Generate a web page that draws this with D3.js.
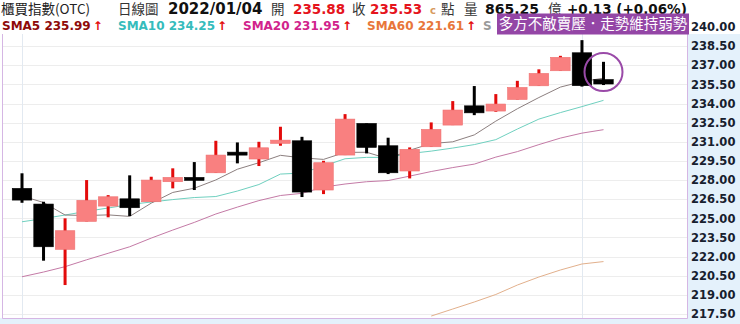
<!DOCTYPE html>
<html>
<head>
<meta charset="utf-8">
<script src="https://cdn.jsdelivr.net/npm/d3@7"></script>
<style>
  body { margin: 0; background: #fff; }
  svg { display: block; }
</style>
</head>
<body>
<div id="chart"></div>
<script>
// daily candles
var openP  = [227.35, 226.12, 222.57, 224.76, 225.96, 226.53, 226.30, 227.87, 228.21, 228.57,
              230.19, 229.65, 230.88, 231.08, 227.22, 229.96, 232.44, 230.69, 228.71, 230.61,
              232.31, 233.82, 233.41, 234.32, 235.39, 236.57, 237.98, 235.88];
var highP  = [228.53, 226.30, 225.00, 228.00, 226.82, 228.37, 228.26, 228.92, 229.41, 231.08,
              230.95, 231.00, 232.18, 231.39, 229.51, 233.17, 232.44, 231.32, 230.56, 232.52,
              234.19, 235.37, 234.74, 235.78, 236.68, 237.74, 238.97, 237.27];
var lowP   = [226.22, 221.68, 219.77, 224.76, 225.08, 225.18, 226.30, 227.35, 227.22, 228.57,
              229.31, 229.10, 230.69, 226.67, 226.90, 229.96, 230.09, 228.47, 228.13, 230.61,
              232.31, 233.09, 233.35, 234.32, 235.39, 236.57, 235.33, 235.45];
var closeP = [226.43, 222.77, 224.03, 226.41, 226.69, 225.83, 228.00, 228.21, 228.05, 229.96,
              230.04, 230.53, 231.13, 227.06, 229.36, 232.78, 230.56, 228.57, 230.41, 231.97,
              233.49, 233.27, 233.96, 235.26, 236.36, 237.62, 235.40, 235.53];

// moving averages as drawn
var sma5  = [226.75, 226.24, 225.26, 225.22, 225.27, 225.15, 226.19, 227.03, 227.36, 228.01,
             228.85, 229.36, 229.94, 229.74, 229.62, 230.17, 230.18, 229.67, 230.34, 230.86,
             231.00, 231.54, 232.62, 233.59, 234.47, 235.29, 235.72, 235.99];
var sma10 = [224.73, 224.98, 225.26, 225.55, 225.81, 226.08, 226.28, 226.47, 226.63, 226.71,
             227.14, 227.65, 228.47, 228.55, 229.10, 229.67, 229.78, 229.78, 230.08, 230.27,
             230.51, 230.78, 231.17, 232.00, 232.78, 233.29, 233.76, 234.25];
var sma20 = [220.42, 220.79, 221.21, 221.75, 222.26, 222.77, 223.45, 224.08, 224.68, 225.34,
             225.88, 226.39, 226.79, 226.96, 227.45, 227.69, 227.87, 227.96, 228.31, 228.67,
             228.98, 229.25, 229.80, 230.23, 230.78, 231.29, 231.68, 231.95];
var sma60 = [null, null, null, null, null, null, null, null, null, null,
             null, null, null, null, null, null, null, null, null, 217.34,
             217.89, 218.44, 219.03, 219.77, 220.40, 220.95, 221.42, 221.61];

var yTicks = [217.5, 219, 220.5, 222, 223.5, 225, 226.5, 228, 229.5, 231, 232.5, 234, 235.5, 237, 238.5, 240];
var gridDays = [0, 26];

var W = 740, H = 324;
var plot = {left: 2, right: 687, top: 34, bottom: 318};

var svg = d3.select("#chart").append("svg")
    .attr("width", W)
    .attr("height", H);

// axis + bottom strip background
svg.append("rect").attr("x", plot.right).attr("y", plot.top)
   .attr("width", W - plot.right).attr("height", H - plot.top).attr("fill", "#e4f1fb");
svg.append("rect").attr("x", 0).attr("y", plot.bottom)
   .attr("width", W).attr("height", H - plot.bottom).attr("fill", "#e4f1fb");
svg.append("rect").attr("x", plot.left).attr("y", plot.top)
   .attr("width", plot.right - plot.left).attr("height", plot.bottom - plot.top).attr("fill", "#fff");

var idx = d3.range(openP.length);
var x = d3.scalePoint().domain(idx).range([22, 603.5]);
var y = d3.scaleLinear().domain([217.5, 240]).range([314, 27]);

svg.append("clipPath").attr("id", "clip")
  .append("rect").attr("x", plot.left).attr("y", plot.top)
  .attr("width", plot.right - plot.left).attr("height", plot.bottom - plot.top);

var g = svg.append("g").attr("clip-path", "url(#clip)");

// grid
g.selectAll(".hgrid").data(yTicks).enter().append("line")
  .attr("x1", plot.left).attr("x2", plot.right)
  .attr("y1", function(d) { return Math.round(y(d)) + 0.5; })
  .attr("y2", function(d) { return Math.round(y(d)) + 0.5; })
  .attr("stroke", "#ededed");
g.selectAll(".vgrid").data(gridDays).enter().append("line")
  .attr("x1", function(d) { return Math.round(x(d)) + 0.5; })
  .attr("x2", function(d) { return Math.round(x(d)) + 0.5; })
  .attr("y1", plot.top).attr("y2", plot.bottom)
  .attr("stroke", "#e2e9f1");

// moving average lines
function maLine(vals, color) {
  var line = d3.line()
    .defined(function(d) { return d != null; })
    .x(function(d, i) { return x(i); })
    .y(function(d) { return y(d); });
  g.append("path").datum(vals)
    .attr("d", line)
    .attr("fill", "none")
    .attr("stroke", color)
    .attr("stroke-width", 1);
}
maLine(sma60, "#e2b08c");
maLine(sma20, "#c47aa6");
maLine(sma10, "#6fd0bf");
maLine(sma5, "#8c7f7f");

// candles
var bw = 19.5;
var up = function(i) { return closeP[i] >= openP[i]; };

g.selectAll(".wick").data(idx).enter().append("rect")
  .attr("x", function(i) { return x(i) - 1.5; })
  .attr("width", 3)
  .attr("y", function(i) { return y(highP[i]); })
  .attr("height", function(i) { return Math.max(1, y(lowP[i]) - y(highP[i])); })
  .attr("fill", function(i) { return up(i) ? "#e30b0b" : "#000"; });

g.selectAll(".body").data(idx).enter().append("rect")
  .attr("x", function(i) { return x(i) - bw / 2; })
  .attr("width", bw)
  .attr("y", function(i) { return y(Math.max(openP[i], closeP[i])); })
  .attr("height", function(i) { return Math.max(3, Math.abs(y(openP[i]) - y(closeP[i]))); })
  .attr("fill", function(i) { return up(i) ? "#f98080" : "#000"; })
  .attr("stroke", function(i) { return up(i) ? "#ef7070" : "#000"; })
  .attr("stroke-width", 0.6);

// plot border
svg.append("path")
  .attr("d", "M" + (plot.left + 0.5) + "," + plot.top + "V" + (plot.bottom + 0.5) +
             "H" + (plot.right + 0.5) + "V" + plot.top)
  .attr("fill", "none")
  .attr("stroke", "#d5b6e4");

// right axis
var yAxis = svg.append("g")
  .attr("transform", "translate(" + plot.right + ",0)")
  .call(d3.axisRight(y).tickValues(yTicks).tickSize(0).tickPadding(4).tickFormat(d3.format(".2f")));
yAxis.select(".domain").remove();
yAxis.selectAll("text")
  .attr("font-family", "DejaVu Sans, Verdana, sans-serif")
  .attr("font-size", 11.5)
  .attr("font-weight", "bold")
  .attr("fill", "#17202e");

// header row 1
var cjk = "'Noto Sans CJK TC', 'Noto Sans CJK SC', sans-serif";
var num = "DejaVu Sans, Verdana, sans-serif";
var head = [
  {t: "櫃買指數(OTC)", x: 1, f: cjk, s: 13.5, w: "normal", c: "#222"},
  {t: "日線圖", x: 118, f: cjk, s: 13.5, w: "normal", c: "#333"},
  {t: "2022/01/04", x: 168, f: num, s: 15, w: "bold", c: "#111"},
  {t: "開", x: 271, f: cjk, s: 13.5, w: "normal", c: "#333"},
  {t: "235.88", x: 293, f: num, s: 13.5, w: "bold", c: "#e5141c"},
  {t: "收", x: 352, f: cjk, s: 13.5, w: "normal", c: "#333"},
  {t: "235.53", x: 370, f: num, s: 13.5, w: "bold", c: "#e5141c"},
  {t: "c", x: 430, f: num, s: 10, w: "bold", c: "#d89a5e"},
  {t: "點", x: 441, f: cjk, s: 13.5, w: "normal", c: "#333"},
  {t: "量", x: 464, f: cjk, s: 13.5, w: "normal", c: "#333"},
  {t: "865.25", x: 485, f: num, s: 14, w: "bold", c: "#111"},
  {t: "億", x: 548, f: cjk, s: 13.5, w: "normal", c: "#333"},
  {t: "+0.13 (+0.06%)", x: 567, f: num, s: 13.5, w: "bold", c: "#111"}
];
svg.selectAll(".head").data(head).enter().append("text")
  .attr("x", function(d) { return d.x; })
  .attr("y", 13.5)
  .attr("font-family", function(d) { return d.f; })
  .attr("font-size", function(d) { return d.s; })
  .attr("font-weight", function(d) { return d.w; })
  .attr("fill", function(d) { return d.c; })
  .text(function(d) { return d.t; });

// header row 2 : moving average legend (the last one sits under the comment box)
var maNames = ["SMA5", "SMA10", "SMA20", "SMA60"];
var maVals = ["235.99", "234.25", "231.95", "221.61"];
var maCols = ["#8e0a0a", "#35bcbc", "#d1238c", "#e8763a"];
var maX = [2, 118, 243, 367];
var leg = svg.selectAll(".leg").data(maNames).enter().append("text")
  .attr("x", function(d, i) { return maX[i]; })
  .attr("y", 29.5)
  .attr("font-family", num)
  .attr("font-size", 12)
  .attr("font-weight", "bold")
  .attr("fill", function(d, i) { return maCols[i]; });
leg.append("tspan").text(function(d, i) { return d + " " + maVals[i]; });
leg.append("tspan").attr("dx", 2).attr("fill", "#e30b0b").text("↑");
svg.append("text")
  .attr("x", 483).attr("y", 29.5)
  .attr("font-family", num).attr("font-size", 12).attr("font-weight", "bold")
  .attr("fill", "#9a9a9a")
  .text("S");

// comment box
svg.append("rect")
  .attr("x", 497).attr("y", 13.5).attr("width", 192).attr("height", 21)
  .attr("fill", "#9446a6");
svg.append("text")
  .attr("x", 593).attr("y", 29)
  .attr("text-anchor", "middle")
  .attr("font-family", cjk)
  .attr("font-size", 14.5)
  .attr("fill", "#fff")
  .text("多方不敵賣壓．走勢維持弱勢");

// highlight ring on the last candle
svg.append("circle")
  .attr("cx", x(27)).attr("cy", 72).attr("r", 19)
  .attr("fill", "none")
  .attr("stroke", "#9a4aa8")
  .attr("stroke-width", 2);
</script>
</body>
</html>
